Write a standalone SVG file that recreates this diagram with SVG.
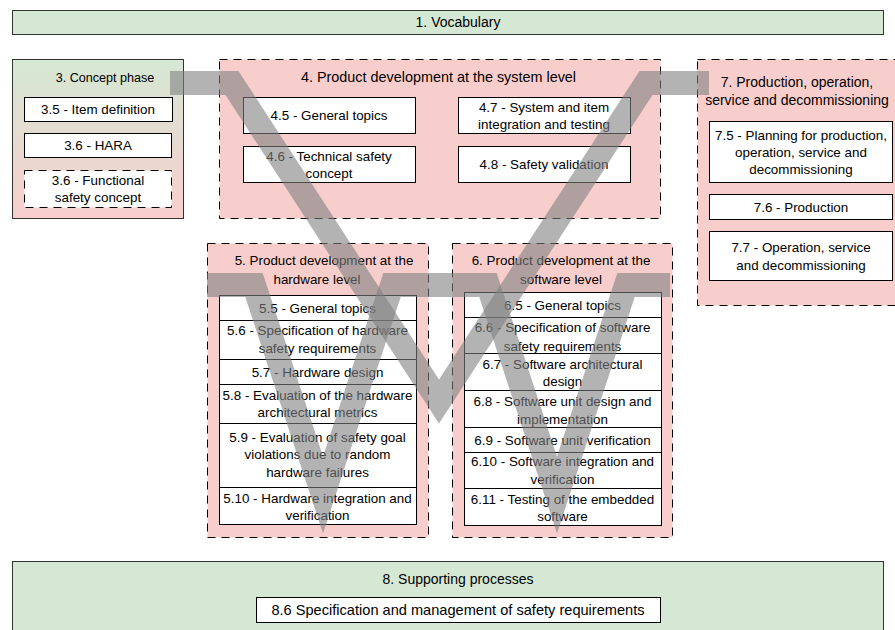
<svg xmlns="http://www.w3.org/2000/svg" width="895" height="630" viewBox="0 0 895 630">
  <defs>
    <linearGradient id="concept-fill" x1="0" y1="0" x2="0" y2="1">
      <stop offset="0" stop-color="#d5e8d4"/>
      <stop offset="1" stop-color="#f8cecc"/>
    </linearGradient>
    <style>
      text { font-family: "Liberation Sans", Arial, Helvetica, sans-serif; font-size: 13.4px; text-anchor: middle; fill: #000; }
      .item { fill: #fff; stroke: #000; stroke-width: 1; }
      .item-dash { fill: #fff; stroke: #000; stroke-width: 1; stroke-dasharray: 8 6; }
      .phase { fill: #f8cecc; stroke: #000; stroke-width: 1; stroke-dasharray: 8 6; }
      .bar { fill: #d5e8d4; stroke: #333; stroke-width: 1; }
      .vband { fill: none; stroke: #808080; stroke-width: 24; stroke-linejoin: miter; stroke-miterlimit: 10; stroke-linecap: butt; opacity: 0.6; }
    </style>
  </defs>

  <!-- 1. Vocabulary -->
  <g id="vocabulary">
    <rect class="bar" x="12.5" y="10.5" width="871" height="24"/>
    <text x="458" y="27" style="font-size:14px">1. Vocabulary</text>
  </g>

  <!-- 3. Concept phase -->
  <g id="concept-phase">
    <rect x="12.5" y="59.5" width="171" height="159" fill="url(#concept-fill)" stroke="#333" stroke-width="1"/>
    <text x="105" y="82" style="font-size:12.6px">3. Concept phase</text>
  </g>
  <g id="item-3-5">
    <rect class="item" x="24.5" y="97.5" width="148" height="24"/>
    <text x="98" y="114">3.5 - Item definition</text>
  </g>
  <g id="item-3-6-hara">
    <rect class="item" x="24.5" y="133.5" width="147" height="24"/>
    <text x="98" y="150">3.6 - HARA</text>
  </g>
  <g id="item-3-6-fsc">
    <rect class="item-dash" x="24.5" y="170.5" width="147" height="37"/>
    <text x="98" y="185">3.6 - Functional</text>
    <text x="98" y="202">safety concept</text>
  </g>

  <!-- 4. System level -->
  <g id="system-level">
    <rect class="phase" x="219.5" y="59.5" width="441" height="159"/>
    <text x="438.5" y="82" style="font-size:14.4px">4. Product development at the system level</text>
  </g>
  <g id="item-4-5">
    <rect class="item" x="243.5" y="97.5" width="172" height="36"/>
    <text x="329" y="120">4.5 - General topics</text>
  </g>
  <g id="item-4-6">
    <rect class="item" x="243.5" y="146.5" width="172" height="36"/>
    <text x="329" y="161">4.6 - Technical safety</text>
    <text x="329" y="178">concept</text>
  </g>
  <g id="item-4-7">
    <rect class="item" x="458.5" y="97.5" width="172" height="36"/>
    <text x="544" y="111.5">4.7 - System and item</text>
    <text x="544" y="128.5">integration and testing</text>
  </g>
  <g id="item-4-8">
    <rect class="item" x="458.5" y="146.5" width="172" height="36"/>
    <text x="544" y="169">4.8 - Safety validation</text>
  </g>

  <!-- 7. Production, operation, service and decommissioning -->
  <g id="production">
    <rect class="phase" x="697.5" y="59.5" width="200" height="246"/>
    <text x="797" y="87" style="font-size:14px">7. Production, operation,</text>
    <text x="797" y="105" style="font-size:14px">service and decommissioning</text>
  </g>
  <g id="item-7-5">
    <rect class="item" x="709.5" y="121.5" width="183" height="61"/>
    <text x="801" y="140">7.5 - Planning for production,</text>
    <text x="801" y="157">operation, service and</text>
    <text x="801" y="174">decommissioning</text>
  </g>
  <g id="item-7-6">
    <rect class="item" x="709.5" y="194.5" width="183" height="25"/>
    <text x="801" y="211.5">7.6 - Production</text>
  </g>
  <g id="item-7-7">
    <rect class="item" x="709.5" y="231.5" width="183" height="49"/>
    <text x="801" y="252">7.7 - Operation, service</text>
    <text x="801" y="270">and decommissioning</text>
  </g>

  <!-- 5. Hardware level -->
  <g id="hardware-level">
    <rect class="phase" x="207.5" y="243.5" width="221" height="294"/>
    <text x="324" y="265">5. Product development at the</text>
    <text x="317" y="284">hardware level</text>
  </g>
  <g id="item-5-5">
    <rect class="item" x="219.5" y="295.5" width="197" height="25"/>
    <text x="317.5" y="312.5">5.5 - General topics</text>
  </g>
  <g id="item-5-6">
    <rect class="item" x="219.5" y="320.5" width="197" height="39"/>
    <text x="317.5" y="335">5.6 - Specification of hardware</text>
    <text x="317.5" y="352.5">safety requirements</text>
  </g>
  <g id="item-5-7">
    <rect class="item" x="219.5" y="359.5" width="197" height="25"/>
    <text x="317.5" y="376.5">5.7 - Hardware design</text>
  </g>
  <g id="item-5-8">
    <rect class="item" x="219.5" y="384.5" width="197" height="39"/>
    <text x="317.5" y="399.5">5.8 - Evaluation of the hardware</text>
    <text x="317.5" y="417">architectural metrics</text>
  </g>
  <g id="item-5-9">
    <rect class="item" x="219.5" y="423.5" width="197" height="64"/>
    <text x="317.5" y="441.5">5.9 - Evaluation of safety goal</text>
    <text x="317.5" y="459">violations due to random</text>
    <text x="317.5" y="477">hardware failures</text>
  </g>
  <g id="item-5-10">
    <rect class="item" x="219.5" y="487.5" width="197" height="37"/>
    <text x="317.5" y="502.5">5.10 - Hardware integration and</text>
    <text x="317.5" y="520">verification</text>
  </g>

  <!-- 6. Software level -->
  <g id="software-level">
    <rect class="phase" x="452.5" y="243.5" width="220" height="294"/>
    <text x="561" y="265">6. Product development at the</text>
    <text x="561" y="284">software level</text>
  </g>
  <g id="item-6-5">
    <rect class="item" x="464.5" y="292.5" width="197" height="25"/>
    <text x="562.5" y="309.5">6.5 - General topics</text>
  </g>
  <g id="item-6-6">
    <rect class="item" x="464.5" y="317.5" width="197" height="36"/>
    <text x="562.5" y="332">6.6 - Specification of software</text>
    <text x="562.5" y="350.5">safety requirements</text>
  </g>
  <g id="item-6-7">
    <rect class="item" x="464.5" y="353.5" width="197" height="37"/>
    <text x="562.5" y="368.5">6.7 - Software architectural</text>
    <text x="562.5" y="386">design</text>
  </g>
  <g id="item-6-8">
    <rect class="item" x="464.5" y="390.5" width="197" height="37"/>
    <text x="562.5" y="406">6.8 - Software unit design and</text>
    <text x="562.5" y="423.5">implementation</text>
  </g>
  <g id="item-6-9">
    <rect class="item" x="464.5" y="427.5" width="197" height="25"/>
    <text x="562.5" y="444.5">6.9 - Software unit verification</text>
  </g>
  <g id="item-6-10">
    <rect class="item" x="464.5" y="452.5" width="197" height="36"/>
    <text x="562.5" y="466">6.10 - Software integration and</text>
    <text x="562.5" y="484">verification</text>
  </g>
  <g id="item-6-11">
    <rect class="item" x="464.5" y="488.5" width="197" height="37"/>
    <text x="562.5" y="503.5">6.11 - Testing of the embedded</text>
    <text x="562.5" y="520.5">software</text>
  </g>

  <!-- 8. Supporting processes -->
  <g id="supporting">
    <rect class="bar" x="12.5" y="561.5" width="871" height="80"/>
    <text x="458" y="584" style="font-size:14px">8. Supporting processes</text>
  </g>
  <g id="item-8-6">
    <rect class="item" x="256.5" y="597.5" width="404" height="25"/>
    <text x="458" y="614.5" style="font-size:14.6px">8.6 Specification and management of safety requirements</text>
  </g>

  <!-- V-model bands drawn over the phases -->
  <g id="connectors">
    <path class="vband" d="M170 83 H232 L439 401.5 L646 83 H709"/>
    <path class="vband" d="M207 285 H254 L323 495 L392 285 H488 L557 495 L626 285 H670"/>
  </g>
</svg>
